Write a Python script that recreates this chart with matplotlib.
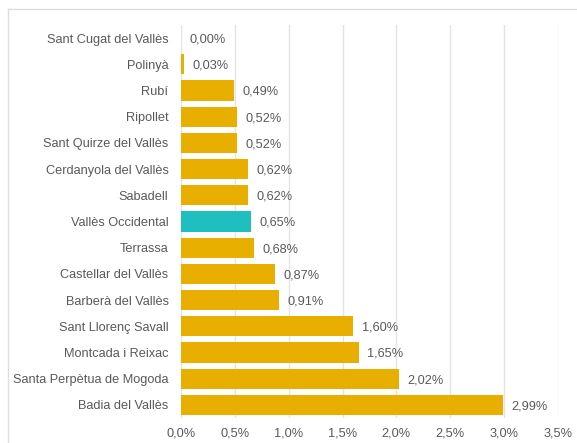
import matplotlib
matplotlib.use("Agg")
import matplotlib.pyplot as plt
from matplotlib.lines import Line2D
from matplotlib.ticker import FuncFormatter

plt.rcParams['font.family'] = ['Liberation Sans', 'DejaVu Sans']

categories = ["Sant Cugat del Vallès", "Polinyà", "Rubí", "Ripollet",
              "Sant Quirze del Vallès", "Cerdanyola del Vallès", "Sabadell",
              "Vallès Occidental", "Terrassa", "Castellar del Vallès",
              "Barberà del Vallès", "Sant Llorenç Savall", "Montcada i Reixac",
              "Santa Perpètua de Mogoda", "Badia del Vallès"]
values = [0.00, 0.03, 0.49, 0.52, 0.52, 0.62, 0.62, 0.65, 0.68, 0.87,
          0.91, 1.60, 1.65, 2.02, 2.99]
highlight = "Vallès Occidental"
xticks = [0.0, 0.5, 1.0, 1.5, 2.0, 2.5, 3.0, 3.5]

gold = "#E8AE00"
teal = "#1FBFC0"
txt = "#595959"

fig = plt.figure(figsize=(5.77, 4.43), dpi=100)
ax = fig.add_axes([181/577, 1-418/443, (558-181)/577, (418-25)/443])

ypos = list(range(len(categories)))
colors = [teal if c == highlight else gold for c in categories]
ax.barh(ypos, values, height=0.77, color=colors, zorder=3)
for y, v in zip(ypos, values):
    ax.text(v + 0.08, y + 0.05, f"{v:.2f}%".replace(".", ","), va="center", ha="left",
            fontsize=9.2, color=txt)

ax.set_ylim(len(categories) - 0.5, -0.5)
ax.set_xlim(0, 3.5)
ax.set_yticks(ypos)
ax.set_yticklabels(categories, fontsize=9.2, color=txt)
ax.set_xticks(xticks)
ax.xaxis.set_major_formatter(FuncFormatter(lambda x, p: f"{x:.1f}%".replace(".", ",")))
ax.tick_params(axis='x', labelsize=9.2, colors=txt, length=0, pad=7)
ax.tick_params(axis='y', length=0, pad=9)
ax.grid(axis='x', color="#E4E4E4", linewidth=1, zorder=0)
for s in ax.spines.values():
    s.set_visible(False)

# outer frame lines (top and left)
fig.add_artist(Line2D([8/577, 1], [1-9/443, 1-9/443], color="#DDDDDD", linewidth=1, transform=fig.transFigure))
fig.add_artist(Line2D([8/577, 8/577], [0, 1-9/443], color="#DDDDDD", linewidth=1, transform=fig.transFigure))

fig.savefig("out.png", dpi=100)
